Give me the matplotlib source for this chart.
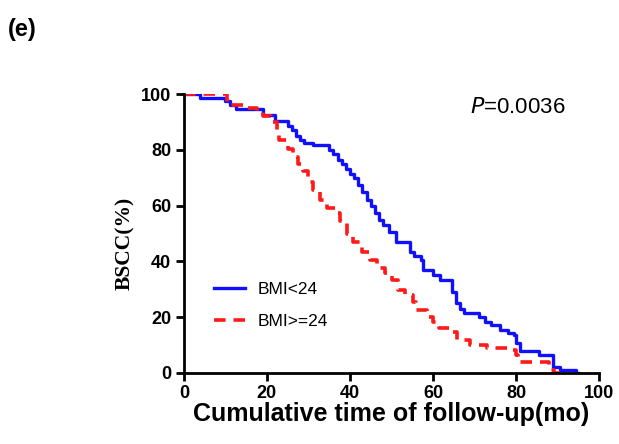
import matplotlib.pyplot as plt

# Kaplan-Meier step points (time in months, survival %)
bmi_lt24_t = [0, 4, 10, 11, 12.5, 19, 22, 25, 26, 27, 28, 29, 31, 35, 36, 37, 38, 39,
              40, 41, 42, 43, 44, 45, 46, 47, 48, 49.5, 51, 54.5, 55.5, 57, 57.6, 60,
              61.7, 64.5, 65.5, 66.5, 67.5, 71, 72.5, 74, 76, 78, 79.5, 80, 81, 85.5,
              88.8, 90.5, 94.5]
bmi_lt24_s = [100, 98.6, 97.5, 96, 94.5, 92.5, 90.3, 88.5, 87, 85, 83.5, 82.5, 81.7, 80,
              78.5, 76.5, 75, 73, 71.5, 70, 67.5, 65, 62, 60, 57.5, 55, 53, 50.5, 47,
              43.5, 42, 40.5, 37, 35, 33.3, 29, 25, 23, 21.5, 20, 18.3, 17.2, 15.4,
              14.5, 13.6, 10.8, 8, 6.5, 2.2, 1, 0]

bmi_ge24_t = [0, 10.5, 15, 17.5, 19, 21, 22.5, 23, 25, 26.3, 27.5, 28.7, 30, 31, 32.8,
              34.5, 36.9, 37.6, 39.3, 40.7, 42.4, 43, 44.8, 46.5, 48.4, 50, 51.6, 53.3,
              55.2, 56, 58.6, 60, 61.5, 64, 65.8, 69, 73, 78, 80, 80.5, 88, 89]
bmi_ge24_s = [100, 96, 95, 94, 92, 90, 87, 83.5, 80.5, 77.5, 75, 72.5, 68.5, 65.5, 62,
              59, 57.3, 54.5, 50, 47, 46, 43.5, 40.5, 37.6, 35.8, 33.3, 29.7, 28, 25.4,
              22.6, 20, 18.3, 16.1, 14.7, 11.8, 10, 9, 8.2, 6.5, 4, 1, 0]

xticks = [0, 20, 40, 60, 80, 100]
yticks = [0, 20, 40, 60, 80, 100]

plt.rcParams['font.family'] = ['Liberation Sans', 'DejaVu Sans']

fig = plt.figure(figsize=(6.19, 4.44), dpi=100)
ax = fig.add_axes([0.297, 0.160, 0.671, 0.628])

ax.plot(bmi_lt24_t + [95], bmi_lt24_s + [0], drawstyle='steps-post',
        color='#1010ff', lw=2.4, label='BMI<24')
ax.plot(bmi_ge24_t + [92], bmi_ge24_s + [0], drawstyle='steps-post',
        color='#ff1a1a', lw=2.6, ls=(0, (3.2, 2.2)), label='BMI>=24')

ax.set_xlim(0, 100)
ax.set_ylim(0, 100)
ax.set_xticks(xticks)
ax.set_yticks(yticks)
for s in ['top', 'right']:
    ax.spines[s].set_visible(False)
for s in ['left', 'bottom']:
    ax.spines[s].set_linewidth(2)
ax.tick_params(width=2, length=6, labelsize=13, pad=3)
for lab in ax.get_xticklabels() + ax.get_yticklabels():
    lab.set_fontweight('bold')

ax.set_xlabel('Cumulative time of follow-up(mo)', fontsize=18, fontweight='bold', labelpad=0)
ax.set_ylabel('BSCC(%)', fontsize=15.5, fontweight='bold', family='Liberation Serif')
ax.yaxis.set_label_coords(-0.118, 0.464)

ax.text(0.69, 0.99, r'$\it{P}$=0.0036', transform=ax.transAxes, fontsize=16,
        va='top', ha='left')

ax.legend(loc='lower left', bbox_to_anchor=(0.035, 0.1), frameon=False, fontsize=12.5,
          handlelength=1.8, labelspacing=1.0, handletextpad=0.7)

fig.text(0.012, 0.96, '(e)', fontsize=17, fontweight='bold', va='top')

fig.savefig('out.png', dpi=100)
